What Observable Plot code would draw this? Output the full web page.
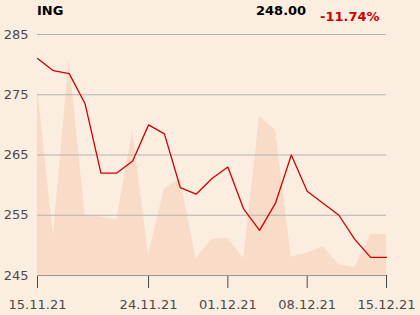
<!DOCTYPE html>
<html>
<head>
<meta charset="utf-8">
<script src="https://cdn.jsdelivr.net/npm/d3@7"></script>
<script src="https://cdn.jsdelivr.net/npm/@observablehq/plot@0.6"></script>
<style>
  html, body { margin: 0; padding: 0; background: #fcede1; }
  #wrap { position: relative; width: 420px; height: 315px; overflow: hidden; }
  .t { position: absolute; font-family: "DejaVu Sans", sans-serif; font-weight: bold; font-size: 13px; line-height: 1; white-space: nowrap; }
  #chart { position: absolute; left: 0; top: 0; }
</style>
</head>
<body>
<div id="wrap">
  <div id="chart"></div>
  <div class="t" id="name" style="left:37px; top:4px; color:#000;"></div>
  <div class="t" id="last" style="left:256px; top:3.5px; color:#000;"></div>
  <div class="t" id="chg" style="left:320px; top:10px; color:#cc0000;"></div>
</div>
<script>
const ticker = "ING";
const lastPrice = "248.00";
const change = "-11.74%";

// trading days 15.11.21 .. 15.12.21
const prices = [281.0, 279.0, 278.5, 273.5, 262.0, 262.0, 264.0, 270.0, 268.5, 259.6, 258.5, 261.1,
                263.0, 256.0, 252.5, 257.0, 265.0, 259.0, 257.0, 255.0, 251.0, 248.0, 248.0];
// shaded (volume) profile, in price-axis units
const shade = [276.3, 251.7, 280.9, 255.1, 254.7, 254.3, 269.0, 248.3, 259.4, 261.0, 247.8, 251.0,
               251.2, 247.8, 271.4, 269.1, 248.1, 248.7, 249.8, 246.8, 246.3, 251.8, 251.8];
const xTickIdx = [0, 7, 12, 17, 22];
const xTickLabels = ["15.11.21", "24.11.21", "01.12.21", "08.12.21", "15.12.21"];
const yTicks = [245, 255, 265, 275, 285];

document.getElementById("name").textContent = ticker;
document.getElementById("last").textContent = lastPrice;
document.getElementById("chg").textContent = change;

const rows = prices.map((p, i) => ({i, p, s: shade[i]}));
const labelOf = new Map(xTickIdx.map((k, j) => [k, xTickLabels[j]]));

const chart = Plot.plot({
  width: 420,
  height: 315,
  marginTop: 34,
  marginBottom: 40,
  marginLeft: 37,
  marginRight: 34,
  style: {background: "transparent", fontFamily: "DejaVu Sans, sans-serif", fontSize: "13px", color: "#4a4a4a"},
  x: {type: "linear", domain: [0, prices.length - 1], ticks: xTickIdx, tickFormat: d => labelOf.get(d), tickSize: 13, tickPadding: 11, label: null},
  y: {domain: [245, 285], ticks: yTicks, tickSize: 0, tickPadding: 9, label: null},
  marks: [
    Plot.areaY(rows, {x: "i", y1: 245, y2: "s", fill: "#f8dcc8", curve: "linear"}),
    Plot.ruleY(yTicks, {stroke: "#b3b3b3", strokeWidth: 1}),
    Plot.ruleY([245], {stroke: "#999", strokeWidth: 1}),
    Plot.line(rows, {x: "i", y: "p", stroke: "#d10000", strokeWidth: 1.3})
  ]
});
document.getElementById("chart").appendChild(chart);
</script>
</body>
</html>
